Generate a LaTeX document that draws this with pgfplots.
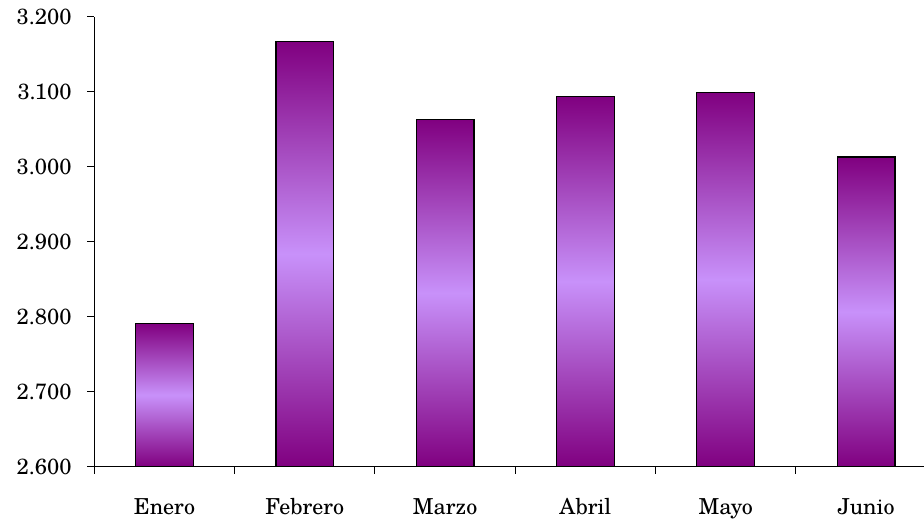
\documentclass[border=0pt]{standalone}
\usepackage{fontspec}
\setmainfont{texgyreschola-regular.otf}
\usepackage{pgfplots}
\pgfplotsset{compat=1.18}
\definecolor{pdark}{RGB}{128,0,128}
\definecolor{plight}{RGB}{200,145,250}
\pgfplotsset{purplebar/.style={ybar, bar width=28.85pt, bar shift=0pt, draw=black, line width=0.6pt,
  top color=pdark, bottom color=pdark, middle color=plight}}
\begin{document}
\fontsize{11pt}{13pt}\selectfont
\begin{tikzpicture}[x=1pt,y=1pt]
\path[use as bounding box] (-47.15,-27.15) rectangle (414.85,233.35);
\begin{axis}[
  at={(0,0)}, anchor=south west,
  scale only axis, width=414.85pt, height=225pt,
  xmin=-0.5, xmax=5.413, ymin=2600, ymax=3200,
  axis lines*=left,
  axis line style={black, line width=0.5pt},
  tick align=outside, major tick length=3.5pt,
  tick style={black, line width=0.5pt},
  ytick={2600,2700,...,3200},
  /pgf/number format/.cd, 1000 sep={.}, assume math mode=true, /pgfplots/.cd,
  yticklabel style={font=\fontsize{11pt}{13pt}\selectfont, xshift=-4pt},
  xtick={-0.5,0.5,1.5,2.5,3.5,4.5},
  xticklabels={},
  extra x ticks={0,1,2,3,4,5},
  extra x tick labels={Enero,Febrero,Marzo,Abril,Mayo,Junio},
  extra x tick style={major tick length=0pt, xticklabel style={yshift=-12pt}},
  xticklabel style={font=\fontsize{11pt}{13pt}\selectfont},
  clip=false,
]
\addplot[purplebar] coordinates {(0,2791)};
\addplot[purplebar] coordinates {(1,3167)};
\addplot[purplebar] coordinates {(2,3063)};
\addplot[purplebar] coordinates {(3,3094)};
\addplot[purplebar] coordinates {(4,3099)};
\addplot[purplebar] coordinates {(5,3013)};
\end{axis}
\end{tikzpicture}
\end{document}
